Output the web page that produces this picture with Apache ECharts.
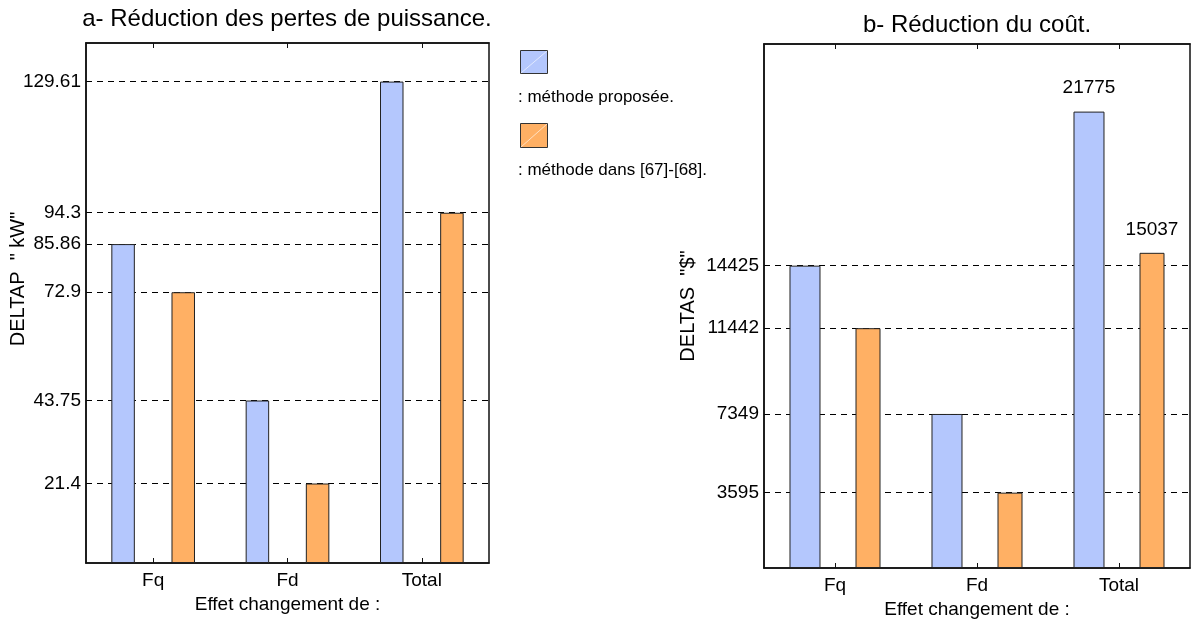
<!DOCTYPE html>
<html>
<head>
<meta charset="utf-8">
<script src="https://cdn.jsdelivr.net/npm/echarts@6/dist/echarts.min.js"></script>
<style>
  html, body { margin: 0; padding: 0; background: #fff; }
  #chart { width: 1192px; height: 621px; }
</style>
</head>
<body>
<div id="chart"></div>
<script>
// Categories shared by both panels
const categories = ['Fq', 'Fd', 'Total'];

// Panel a: power-loss reduction (kW)
const lossProposed = [85.86, 43.75, 129.61];
const lossReference = [72.9, 21.4, 94.3];
const lossTicks = [21.4, 43.75, 72.9, 85.86, 94.3, 129.61];

// Panel b: cost reduction ($)
const costProposed = [14425, 7349, 21775];
const costReference = [11442, 3595, 15037];
const costTicks = [3595, 7349, 11442, 14425];

// Only the totals carry a value label in panel b
const labelledCategory = 'Total';

const seriesNames = [': méthode proposée.', ': méthode dans [67]-[68].'];
const BLUE = '#b4c7fd';
const ORANGE = '#ffb064';
const EDGE = '#222';
const FONT = 'Liberation Sans, Arial, sans-serif';

function frameAxes(gridIndex, nameGap) {
  const common = {
    type: 'category', data: categories, gridIndex: gridIndex,
    axisLine: { show: true, lineStyle: { color: '#111', width: 1.5 } },
    axisTick: { show: true, inside: true, alignWithLabel: true, length: 5, lineStyle: { color: '#111' } }
  };
  return [
    Object.assign({}, common, {
      position: 'bottom',
      axisLabel: { color: '#000', fontSize: 19, fontFamily: FONT, margin: 8 },
      name: 'Effet changement de :', nameLocation: 'middle', nameGap: nameGap,
      nameTextStyle: { color: '#000', fontSize: 19, fontFamily: FONT }
    }),
    Object.assign({}, common, { position: 'top', axisLabel: { show: false } })
  ];
}

function valueAxis(gridIndex, max, ticks) {
  return {
    type: 'value', gridIndex: gridIndex, min: 0, max: max,
    axisLine: { show: true, lineStyle: { color: '#111', width: 1.5 } },
    axisTick: { show: false, customValues: ticks },
    axisLabel: {
      customValues: ticks, color: '#000', fontSize: 19, fontFamily: FONT, margin: 5,
      formatter: v => String(v)
    },
    splitLine: { show: true, lineStyle: { color: '#000', width: 1, type: [6, 5] } }
  };
}

function barSeries(name, data, xi, yi, color, width, gap, withLabel) {
  return {
    type: 'bar', name: name, xAxisIndex: xi, yAxisIndex: yi,
    barWidth: width, barGap: gap,
    itemStyle: { color: color, borderColor: EDGE, borderWidth: 1 },
    data: data.map((v, i) => withLabel && categories[i] === labelledCategory
      ? { value: v, label: { show: true, position: 'top', distance: 14, color: '#000', fontSize: 19, fontFamily: FONT } }
      : v)
  };
}

const chart = echarts.init(document.getElementById('chart'));
chart.setOption({
  backgroundColor: '#fff',
  animation: false,
  grid: [
    { left: 86, top: 43, width: 403, height: 520, show: true, borderColor: '#111', borderWidth: 1.5, outerBoundsMode: 'none' },
    { left: 764, top: 44, width: 426, height: 524, show: true, borderColor: '#111', borderWidth: 1.5, outerBoundsMode: 'none' }
  ],
  xAxis: frameAxes(0, 30).concat(frameAxes(1, 29)),
  yAxis: [valueAxis(0, 140, lossTicks), valueAxis(1, 25000, costTicks)],
  series: [
    barSeries(seriesNames[0], lossProposed, 0, 0, BLUE, 23.5, '156%', false),
    barSeries(seriesNames[1], lossReference, 0, 0, ORANGE, 23.5, '156%', false),
    barSeries(seriesNames[0], costProposed, 2, 1, BLUE, 31, '113%', true),
    barSeries(seriesNames[1], costReference, 2, 1, ORANGE, 25, '113%', true)
  ],
  graphic: [
    // panel titles
    { type: 'text', x: 287, y: 19, style: { text: 'a- Réduction des pertes de puissance.', fill: '#000', font: '24px ' + FONT, textAlign: 'center', textVerticalAlign: 'middle' } },
    { type: 'text', x: 977, y: 25, style: { text: 'b- Réduction du coût.', fill: '#000', font: '24px ' + FONT, textAlign: 'center', textVerticalAlign: 'middle' } },
    // y-axis names
    { type: 'text', x: 18, y: 279, rotation: Math.PI / 2, style: { text: 'DELTAP  " kW"', fill: '#000', font: '20px ' + FONT, textAlign: 'center', textVerticalAlign: 'middle' } },
    { type: 'text', x: 688, y: 306, rotation: Math.PI / 2, style: { text: 'DELTAS  "$"', fill: '#000', font: '20px ' + FONT, textAlign: 'center', textVerticalAlign: 'middle' } },
    // legend swatches and their captions
    { type: 'rect', shape: { x: 520.5, y: 50.5, width: 27, height: 23 }, style: { fill: BLUE, stroke: '#333', lineWidth: 1 } },
    { type: 'line', shape: { x1: 521, y1: 73, x2: 547, y2: 51 }, style: { stroke: 'rgba(255,255,255,0.6)', lineWidth: 1 } },
    { type: 'text', x: 518, y: 97, style: { text: seriesNames[0], fill: '#000', font: '17px ' + FONT, textVerticalAlign: 'middle' } },
    { type: 'rect', shape: { x: 520.5, y: 123.5, width: 27, height: 24 }, style: { fill: ORANGE, stroke: '#333', lineWidth: 1 } },
    { type: 'line', shape: { x1: 521, y1: 147, x2: 547, y2: 124 }, style: { stroke: 'rgba(255,255,255,0.6)', lineWidth: 1 } },
    { type: 'text', x: 518, y: 170, style: { text: seriesNames[1], fill: '#000', font: '17px ' + FONT, textVerticalAlign: 'middle' } }
  ]
});
</script>
</body>
</html>
